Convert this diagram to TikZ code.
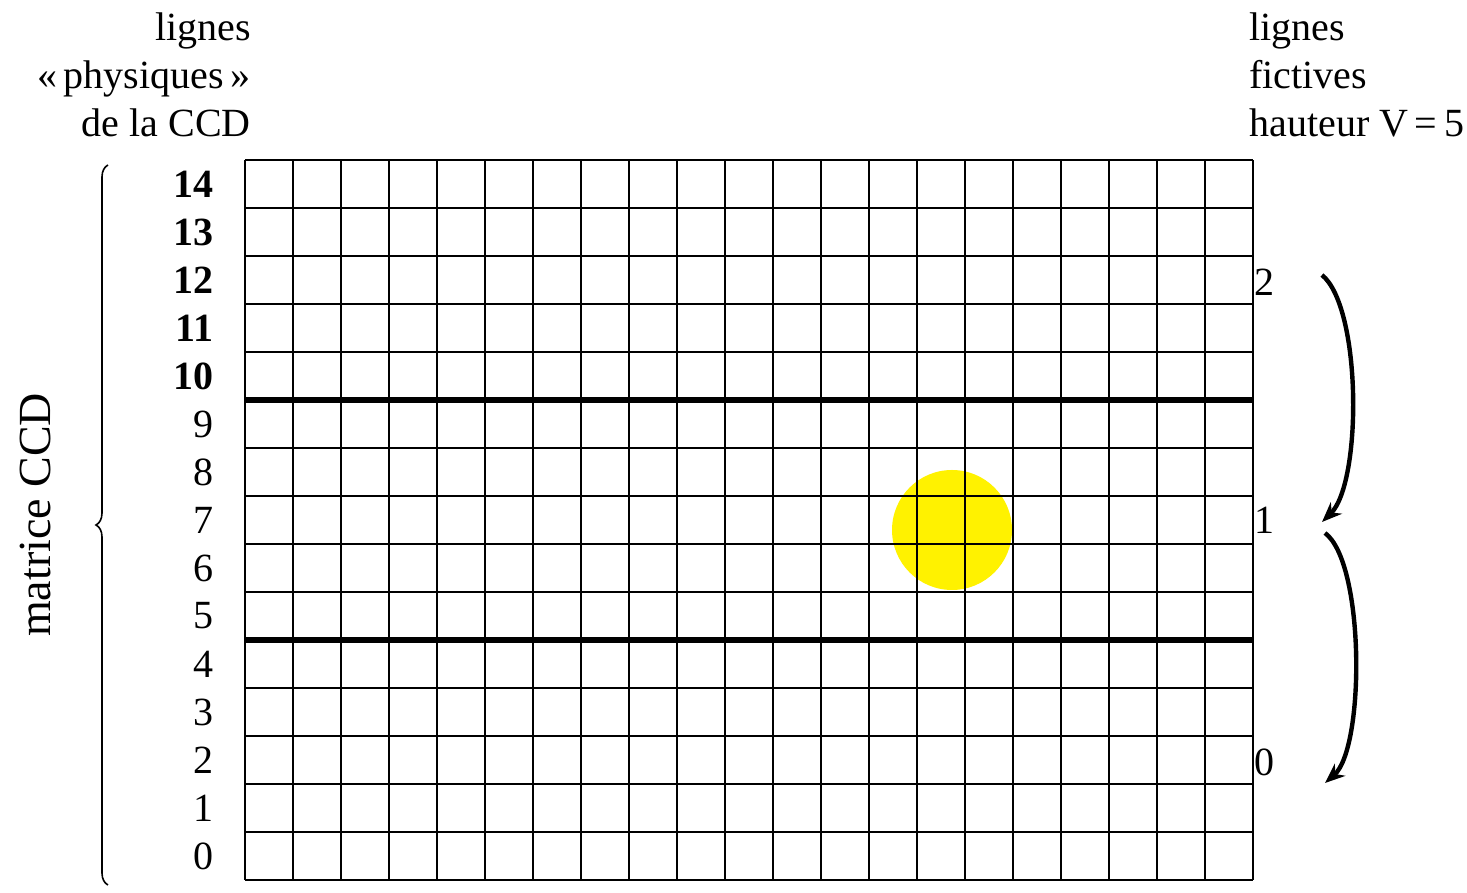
\documentclass[tikz,border=0pt]{standalone}
\usepackage{fontspec}
\setmainfont{Liberation Serif}
\usetikzlibrary{positioning, arrows.meta, decorations.pathreplacing}

\begin{document}
\begin{tikzpicture}[x=0.5pt, y=0.5pt,
    cell/.style={black, line width=1pt},
    sep/.style={black, line width=3pt},
    rowlabel/.style={anchor=east, inner sep=0pt, font=\fontsize{20}{24}\selectfont},
    fictlabel/.style={anchor=west, inner sep=0pt, font=\fontsize{20}{24}\selectfont},
    note/.style={inner sep=0pt, font=\fontsize{20}{24}\selectfont},
    arrow/.style={-{Stealth[length=10pt, width=8pt]}, line width=2.2pt}
  ]
    \useasboundingbox (0,0) rectangle (1467,893);
    % spot
    \fill[yellow] (952,363) circle (60);
    % CCD grid, 21 x 15 pixels
    \foreach \i in {0,...,21}
      \draw[cell] (245+48*\i,13) -- (245+48*\i,733);
    \foreach \j in {0,...,15}
      \draw[cell] (245,13+48*\j) -- (1253,13+48*\j);
    \draw[sep] (245,253) -- (1253,253);
    \draw[sep] (245,493) -- (1253,493);
    % physical lines
    \foreach \j in {0,...,9}
      \node[rowlabel] (row\j) at (214,37+48*\j) {\j};
    \foreach \j in {10,...,14}
      \node[rowlabel, font=\fontsize{20}{24}\selectfont\bfseries] (row\j) at (214,37+48*\j) {\j};
    % fictive lines
    \node[fictlabel] (fict2) at (1254,611) {2};
    \node[fictlabel] (fict1) at (1254,373) {1};
    \node[fictlabel] (fict0) at (1254,131) {0};
    \coordinate (f2) at (1322,618);
    \coordinate (f1a) at (1322,371);
    \coordinate (f1b) at (1325,360);
    \coordinate (f0) at (1325,110);
    \draw[arrow] (f2) .. controls (1362,585) and (1362,410) .. (f1a);
    \draw[arrow] (f1b) .. controls (1365,330) and (1365,145) .. (f0);
    % titles
    \node[note, align=right, anchor=north east] (physt) at (251,881)
      {lignes\\«\,physiques\,»\\de la CCD};
    \node[note, align=left, anchor=north west] (fictt) at (1249,881)
      {lignes\\fictives\\hauteur V\,=\,5};
    \draw[line width=0.8pt, decorate, decoration={brace, amplitude=6pt}]
      (108,8) -- (108,728);
    \node[note, rotate=90, font=\fontsize{23}{26}\selectfont] (matrix) at (35,378) {matrice CCD};
\end{tikzpicture}
\end{document}
